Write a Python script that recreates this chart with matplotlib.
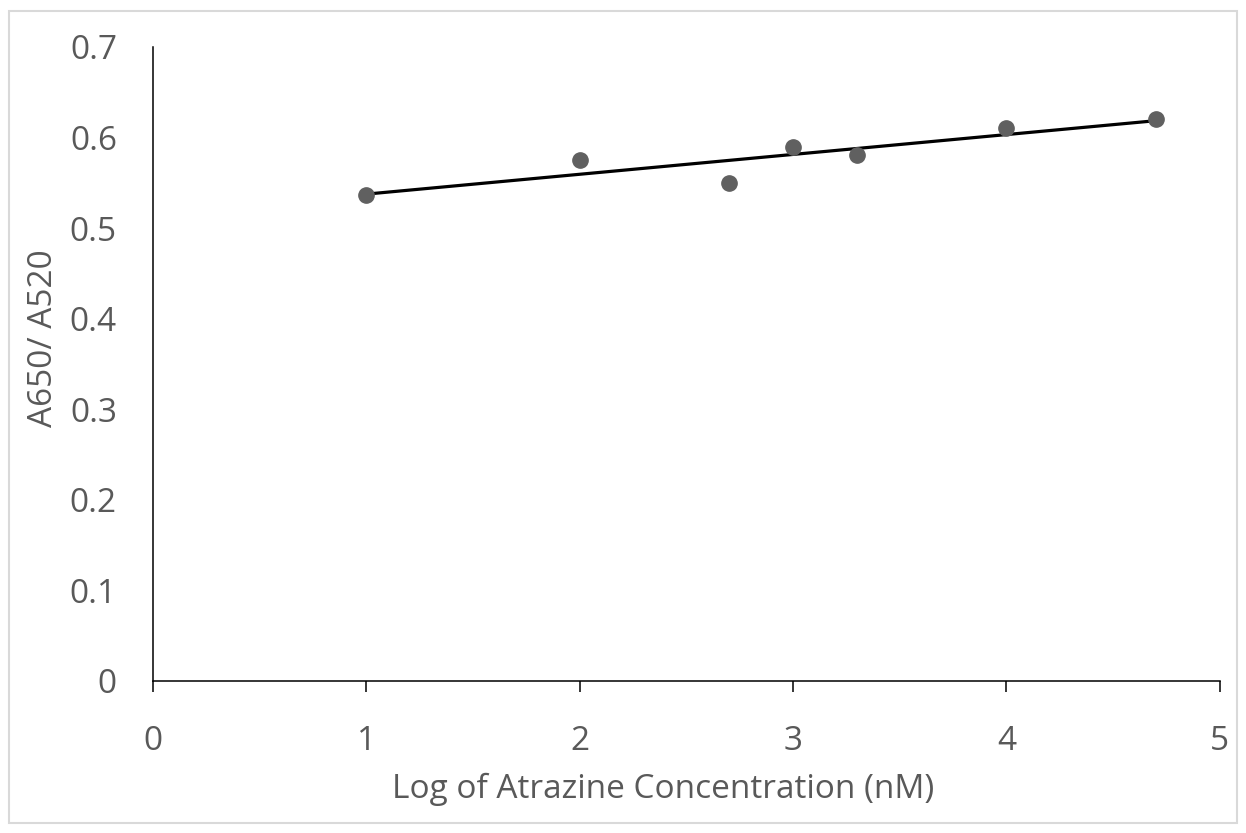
import numpy as np
import matplotlib
matplotlib.use("Agg")
import matplotlib.pyplot as plt
from matplotlib.patches import Rectangle

# log10 of atrazine concentration (nM) and absorbance ratio
log_conc = [1.0, 2.0, 2.699, 3.0, 3.301, 4.0, 4.699]
ratio = [0.537, 0.575, 0.550, 0.590, 0.581, 0.610, 0.620]
xticks = [0, 1, 2, 3, 4, 5]
yticks = [0, 0.1, 0.2, 0.3, 0.4, 0.5, 0.6, 0.7]

TXT = "#595959"
FS = 24
plt.rcParams["font.family"] = ["Open Sans", "DejaVu Sans"]

fig = plt.figure(figsize=(12.46, 8.33), dpi=100)
ax = fig.add_axes([0.1228, 0.1825, 0.979 - 0.1228, 0.9436 - 0.1825])

# linear trendline through the points
slope, icpt = np.polyfit(log_conc, ratio, 1)
xl = np.array([min(log_conc), max(log_conc)])
ax.plot(xl, slope * xl + icpt, color="black", lw=2.3, zorder=2)
ax.plot(log_conc, ratio, "o", color="#606060", ms=11, zorder=3)

ax.set_xlim(0, 5)
ax.set_ylim(0, 0.7)
ax.set_xticks(xticks)
ax.set_yticks(yticks)
ax.set_xticklabels([str(t) for t in xticks])
ax.set_yticklabels(["0"] + [f"{t:.1f}" for t in yticks[1:]])
ax.tick_params(axis="x", direction="out", length=8, width=1.1, color="black",
               labelsize=FS, labelcolor=TXT, pad=24)
ax.tick_params(axis="y", length=0, labelsize=FS, labelcolor=TXT, pad=26)
for s in ["top", "right"]:
    ax.spines[s].set_visible(False)
for s in ["left", "bottom"]:
    ax.spines[s].set_linewidth(1.1)
    ax.spines[s].set_color("black")

ax.set_xlabel("Log of Atrazine Concentration (nM)", fontsize=FS, color=TXT)
ax.set_ylabel("A650/ A520", fontsize=FS, color=TXT)
ax.xaxis.set_label_coords(0.478, -0.144)
ax.yaxis.set_label_coords(-0.087, 0.541)

fig.patches.append(Rectangle((9 / 1246, 10 / 833), 1228 / 1246, 812 / 833,
                             transform=fig.transFigure, fill=False,
                             edgecolor="#d9d9d9", lw=1.5))

fig.savefig("out.png", dpi=100)
